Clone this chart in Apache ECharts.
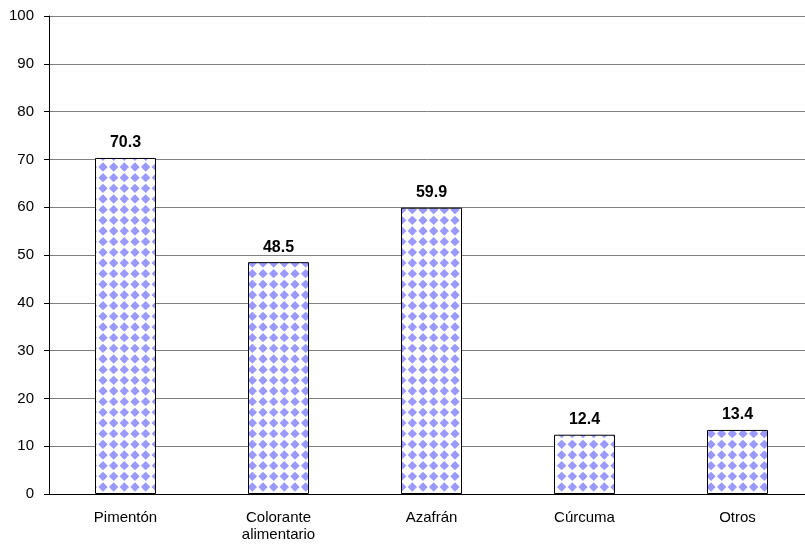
<!DOCTYPE html>
<html>
<head>
<meta charset="utf-8">
<script src="https://cdn.jsdelivr.net/npm/echarts@6/dist/echarts.min.js"></script>
<style>
  html, body { margin: 0; padding: 0; background: #fff; }
  #chart { width: 805px; height: 545px; }
</style>
</head>
<body>
<div id="chart"></div>
<script>
// Categories and values
const categories = ['Pimentón', 'Colorante\nalimentario', 'Azafrán', 'Cúrcuma', 'Otros'];
const values = [70.3, 48.5, 59.9, 12.4, 13.4];
const yTicks = [0, 10, 20, 30, 40, 50, 60, 70, 80, 90, 100];

// Diamond fill tile for the bars: 3x3 diamonds on a 32px square
function diamondTile() {
  const size = 32, step = size / 3, half = 4.7, off = 7;
  const c = document.createElement('canvas');
  c.width = size; c.height = size;
  const g = c.getContext('2d');
  g.fillStyle = '#ffffff';
  g.fillRect(0, 0, size, size);
  g.fillStyle = '#9999ff';
  for (let i = -1; i <= 3; i++) {
    for (let j = -1; j <= 3; j++) {
      const cx = off + i * step, cy = off + j * step;
      g.beginPath();
      g.moveTo(cx, cy - half);
      g.lineTo(cx + half, cy);
      g.lineTo(cx, cy + half);
      g.lineTo(cx - half, cy);
      g.closePath();
      g.fill();
    }
  }
  return c;
}

const chart = echarts.init(document.getElementById('chart'), null, { renderer: 'canvas' });
const font = 'Liberation Sans, Arial, sans-serif';

chart.setOption({
  animation: false,
  // the plot runs a little past the right edge of the canvas
  grid: { left: 49, top: 16, width: 765, height: 478, containLabel: false, outerBoundsMode: 'none' },
  xAxis: {
    type: 'category',
    data: categories,
    axisLine: { show: true, lineStyle: { color: '#000', width: 1 } },
    axisTick: { show: false },
    axisLabel: { color: '#000', fontFamily: font, fontSize: 15, margin: 15, lineHeight: 17, interval: 0 }
  },
  yAxis: {
    type: 'value',
    min: yTicks[0],
    max: yTicks[yTicks.length - 1],
    interval: 10,
    axisLine: { show: true, lineStyle: { color: '#000', width: 1 } },
    axisTick: { show: true, length: 5, lineStyle: { color: '#000' } },
    axisLabel: { color: '#000', fontFamily: font, fontSize: 15, margin: 15 },
    splitLine: { show: true, lineStyle: { color: '#808080', width: 1 } }
  },
  series: [{
    type: 'bar',
    data: values,
    barWidth: 61,
    itemStyle: {
      color: { image: diamondTile(), repeat: 'repeat' },
      borderColor: '#000',
      borderWidth: 1
    },
    label: {
      show: true,
      position: 'top',
      distance: 7,
      color: '#000',
      fontFamily: font,
      fontSize: 16,
      fontWeight: 'bold',
      formatter: p => p.value.toFixed(1)
    }
  }]
});
</script>
</body>
</html>
